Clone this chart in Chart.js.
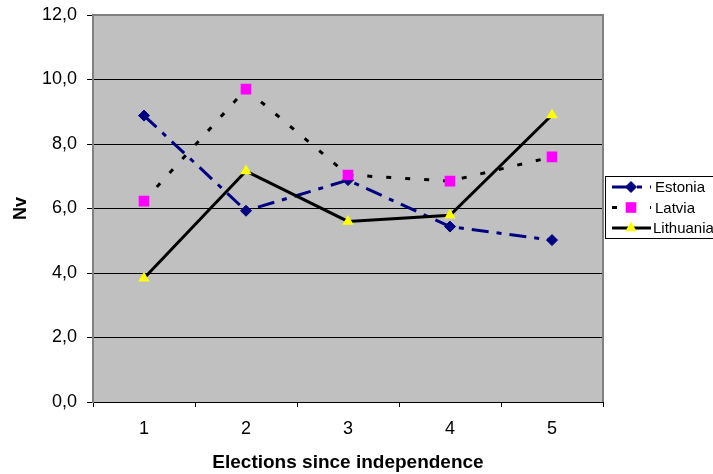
<!DOCTYPE html>
<html>
<head>
<meta charset="utf-8">
<script src="https://cdn.jsdelivr.net/npm/chart.js@4.4.1/dist/chart.umd.min.js"></script>
<style>
    body { margin: 0; background: #fff; overflow: hidden; }
    canvas { display: block; }
</style>
</head>
<body>
<canvas id="nvChart" width="713" height="474"></canvas>
<script>
const elections = ['1', '2', '3', '4', '5'];
const estonia = [8.88, 5.93, 6.88, 5.44, 5.02];
const latvia = [6.23, 9.70, 7.04, 6.85, 7.60];
const lithuania = [3.84, 7.16, 5.60, 5.79, 8.90];
const yTicks = [0, 2, 4, 6, 8, 10, 12];

const FONT = "'Liberation Sans', Arial, sans-serif";

// grey plot background + plot border
const plotArea = {
    id: 'plotArea',
    beforeDraw(chart) {
        const { ctx, chartArea: a } = chart;
        ctx.save();
        ctx.fillStyle = '#c0c0c0';
        ctx.fillRect(a.left, a.top, a.right - a.left, a.bottom - a.top);
        ctx.restore();
    },
    afterDraw(chart) {
        const { ctx, chartArea: a } = chart;
        ctx.save();
        ctx.strokeStyle = '#808080';
        ctx.lineWidth = 2;
        ctx.beginPath();
        ctx.moveTo(a.left, a.top);
        ctx.lineTo(a.right, a.top);
        ctx.lineTo(a.right, a.bottom);
        ctx.stroke();
        ctx.restore();
    }
};

// boxed legend on the right, line + marker like the original
const boxLegend = {
    id: 'boxLegend',
    afterDraw(chart) {
        const { ctx } = chart;
        const x0 = 605.5, y0 = 176.5, rowH = 20.5;
        ctx.save();
        ctx.strokeStyle = '#000';
        ctx.lineWidth = 1;
        ctx.strokeRect(x0, y0, 130, 62);
        ctx.font = '15px ' + FONT;
        ctx.textBaseline = 'middle';
        ctx.fillStyle = '#000';
        chart.data.datasets.forEach((ds, i) => {
            const y = y0 + 10.5 + i * rowH;
            ctx.save();
            ctx.strokeStyle = ds.borderColor;
            ctx.lineWidth = ds.borderWidth;
            ctx.setLineDash(ds.borderDash || []);
            ctx.beginPath();
            ctx.moveTo(612, y);
            ctx.lineTo(651, y);
            ctx.stroke();
            ctx.restore();
            ctx.save();
            ctx.fillStyle = ds.pointBackgroundColor;
            ctx.strokeStyle = ds.pointBorderColor;
            ctx.lineWidth = ds.pointBorderWidth;
            Chart.helpers.drawPoint(ctx, {
                pointStyle: ds.pointStyle,
                radius: ds.pointRadius,
                borderWidth: ds.pointBorderWidth,
                rotation: 0
            }, 631, y);
            ctx.restore();
            ctx.fillText(ds.label, i === 2 ? 653 : 655, y + 1);
        });
        ctx.restore();
    }
};

new Chart(document.getElementById('nvChart'), {
    type: 'line',
    data: {
        labels: elections,
        datasets: [{
            label: 'Estonia',
            data: estonia,
            borderColor: '#000080',
            borderWidth: 3,
            borderDash: [17, 8, 5, 8],
            pointStyle: 'rectRot',
            pointRadius: 5.5,
            pointBackgroundColor: '#000080',
            pointBorderColor: '#000080',
            pointBorderWidth: 1,
            order: 3
        }, {
            label: 'Latvia',
            data: latvia,
            borderColor: '#000000',
            borderWidth: 3,
            borderDash: [5, 14],
            pointStyle: 'rect',
            pointRadius: 7.5,
            pointBackgroundColor: '#ff00ff',
            pointBorderColor: '#ff00ff',
            pointBorderWidth: 0,
            order: 2
        }, {
            label: 'Lithuania',
            data: lithuania,
            borderColor: '#000000',
            borderWidth: 3,
            pointStyle: 'triangle',
            pointRadius: 6.5,
            pointBackgroundColor: '#ffff00',
            pointBorderColor: '#ffff00',
            pointBorderWidth: 0,
            order: 1
        }]
    },
    options: {
        responsive: false,
        animation: false,
        layout: { padding: { left: 0, top: 15, right: 110, bottom: 0 } },
        elements: { line: { tension: 0 } },
        plugins: {
            legend: { display: false },
            tooltip: { enabled: false }
        },
        scales: {
            x: {
                offset: true,
                grid: {
                    offset: true,
                    drawOnChartArea: false,
                    color: '#000',
                    tickLength: 5
                },
                border: { color: '#000', width: 1 },
                ticks: { color: '#000', padding: 11, font: { family: FONT, size: 18 } },
                title: {
                    display: true,
                    text: 'Elections since independence',
                    color: '#000',
                    padding: { top: 0, bottom: 0 },
                    font: { family: FONT, size: 19, weight: 'bold' }
                },
                afterFit(scale) {
                    scale.height = 72;
                    scale.paddingLeft = 0;
                    scale.paddingRight = 0;
                }
            },
            y: {
                min: 0,
                max: 12,
                afterBuildTicks(scale) { scale.ticks = yTicks.map(v => ({ value: v })); },
                grid: {
                    color: '#000',
                    lineWidth: 1,
                    tickLength: 6
                },
                border: { color: '#808080', width: 2 },
                ticks: {
                    color: '#000',
                    padding: 10,
                    font: { family: FONT, size: 18 },
                    callback: v => v.toFixed(1).replace('.', ',')
                },
                title: {
                    display: true,
                    text: 'Nv',
                    color: '#000',
                    padding: { top: 10, bottom: 0 },
                    font: { family: FONT, size: 18, weight: 'bold' }
                },
                afterFit(scale) {
                    scale.width = 93;
                    scale.paddingTop = 0;
                    scale.paddingBottom = 0;
                }
            }
        }
    },
    plugins: [plotArea, boxLegend]
});
</script>
</body>
</html>
